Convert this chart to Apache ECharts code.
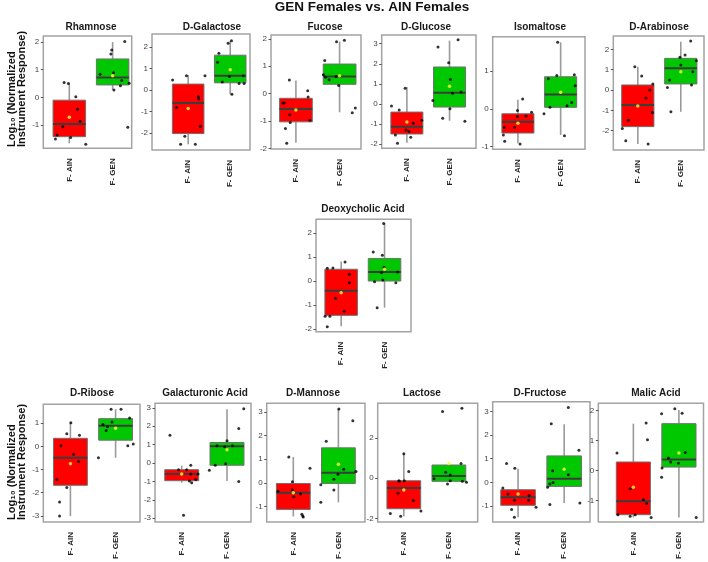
<!DOCTYPE html>
<html><head><meta charset="utf-8">
<script src="https://cdn.jsdelivr.net/npm/echarts@6/dist/echarts.min.js"></script>
<style>html,body{margin:0;padding:0;background:#fff}#c{width:708px;height:562px}</style>
</head><body><div id="c"></div>
<script>
// ---------- DATA ----------
const mainTitle = 'GEN Females vs. AIN Females';
const yAxisTitle = 'Log\u2081\u2080 (Normalized\nInstrument Response)';
const panelNames = ['Rhamnose','D-Galactose','Fucose','D-Glucose','Isomaltose','D-Arabinose',
  'Deoxycholic Acid','D-Ribose','Galacturonic Acid','D-Mannose','Lactose','D-Fructose','Malic Acid'];
const groups = ['F- AIN','F- GEN'];
const groupPos = [1, 2];
// box stats: [whisker low, Q1, median, Q3, whisker high]
const boxAIN = [
  [-1.66,-1.42,-0.96,-0.10,0.50],
  [-2.53,-2.03,-0.60,0.28,0.70],
  [-1.79,-1.03,-0.56,-0.17,0.48],
  [-1.92,-1.49,-1.13,-0.40,0.84],
  [-0.91,-0.64,-0.34,-0.13,0.24],
  [-2.66,-1.80,-0.74,0.25,1.15],
  [-1.88,-1.43,-0.40,0.49,0.81],
  [-3.01,-1.68,-0.49,0.35,1.02],
  [-1.07,-0.96,-0.60,-0.36,-0.14],
  [-1.43,-1.13,-0.42,-0.03,1.09],
  [-1.89,-1.52,-0.49,-0.13,1.21],
  [-1.47,-0.97,-0.63,-0.31,0.58],
  [-1.57,-1.48,-1.03,0.28,1.56]
];
const boxGEN = [
  [0.27,0.45,0.72,1.39,2.00],
  [-0.19,0.34,0.67,1.63,2.30],
  [-0.68,0.34,0.63,1.08,1.90],
  [-0.83,-0.15,0.56,1.84,3.15],
  [-0.69,0.04,0.38,0.85,1.76],
  [-1.07,0.30,1.07,1.56,2.38],
  [-1.11,0.00,0.38,0.94,2.40],
  [-0.49,0.27,0.89,1.20,1.61],
  [-0.98,-0.12,0.92,1.12,2.93],
  [-0.83,-0.03,0.42,1.48,3.13],
  [-0.16,-0.16,0.10,0.65,0.72],
  [-0.87,-0.17,0.15,1.12,2.46],
  [-1.57,0.11,0.36,1.56,2.02]
];
const meanAIN = [-0.72,-0.86,-0.60,-0.89,-0.38,-0.79,-0.49,-0.75,-0.60,-0.42,-0.59,-0.49,-0.56];
const meanGEN = [0.78,0.95,0.65,0.88,0.44,0.90,0.49,0.78,0.73,0.78,0.72,0.56,0.58];
// individual samples: [jittered group position, value]
const pointsAIN = [
  [[0.88,0.54],[0.98,0.5],[1.15,0.02],[1.19,-0.43],[1.25,-0.86],[0.85,-1.06],[1.03,-1.45],[0.72,-1.36],[0.68,-1.5],[1.38,-1.69]],
  [[0.63,0.47],[0.96,0.67],[1.4,0.67],[1.24,-0.31],[1.25,-0.42],[0.72,-0.81],[1.29,-1.69],[0.92,-2.16],[0.82,-2.53],[1.17,-2.53]],
  [[0.85,0.5],[0.73,-0.34],[0.7,-0.34],[1.27,0.11],[1.28,-0.12],[0.86,-0.77],[0.87,-1.05],[0.76,-1.27],[1.32,-0.97],[0.79,-1.81]],
  [[0.64,-0.1],[0.82,-0.3],[0.96,0.79],[1.15,-0.96],[1.35,-0.8],[0.98,-1.29],[1.05,-1.36],[0.73,-1.54],[1.09,-1.65],[0.78,-1.95]],
  [[1.11,0.26],[0.99,-0.04],[0.99,-0.2],[1.19,-0.19],[1.32,-0.09],[0.92,-0.49],[0.68,-0.49],[0.66,-0.69],[0.69,-0.86],[1.05,-0.93]],
  [[0.93,1.15],[1.09,0.69],[1.35,0.3],[1.28,0.0],[1.19,-0.39],[1.34,-1.1],[0.78,-1.48],[0.64,-1.89],[0.72,-2.49],[1.24,-2.66]],
  [[0.68,0.53],[0.81,0.54],[1.09,0.79],[1.19,0.28],[1.19,-0.07],[0.87,-0.72],[1.07,-1.26],[0.63,-1.47],[0.74,-1.47],[0.68,-1.9]],
  [[1.01,1.02],[0.92,0.55],[1.2,0.48],[0.79,0.03],[1.07,-0.34],[1.18,-0.65],[0.7,-1.43],[0.92,-1.77],[0.76,-2.4],[0.76,-3.01]],
  [[0.74,1.51],[0.93,-0.36],[1.11,-0.36],[1.2,-0.12],[1.2,-0.6],[1.36,-0.6],[1.31,-0.89],[1.17,-0.98],[1.22,-1.07],[1.04,-2.84]],
  [[0.9,1.09],[0.98,0.04],[0.98,-0.31],[0.66,-0.36],[1.01,-0.59],[1.16,-0.48],[1.37,0.62],[1.19,-1.34],[1.21,-1.41],[1.22,-1.45]],
  [[1.0,1.21],[1.11,0.33],[0.89,-0.13],[1.01,-0.13],[0.87,-0.75],[1.21,-1.11],[1.38,-1.63],[0.7,-1.76],[0.93,-1.89],[0.9,-0.16]],
  [[0.75,0.8],[0.93,0.6],[0.67,-0.24],[0.78,-0.49],[0.92,-0.76],[1.24,-0.55],[1.23,-0.76],[1.39,-1.05],[0.86,-1.15],[0.92,-1.47]],
  [[0.64,0.58],[1.28,1.58],[1.31,1.02],[0.93,-0.61],[1.22,-0.98],[1.29,-1.11],[0.66,-1.48],[0.93,-1.53],[1.04,-1.48],[1.39,-1.57]]
];
const pointsGEN = [
  [[1.98,1.71],[1.96,1.57],[2.28,2.02],[1.71,0.84],[2.02,0.89],[2.21,0.61],[2.38,0.51],[2.18,0.42],[2.03,0.27],[2.35,-1.08]],
  [[1.73,1.72],[1.7,1.3],[1.95,2.19],[2.03,2.3],[1.81,0.38],[1.98,0.63],[2.04,-0.19],[2.21,0.31],[2.33,0.31],[2.31,0.67]],
  [[1.93,1.89],[2.11,1.95],[1.66,1.21],[1.63,0.69],[1.68,0.6],[1.76,0.51],[1.92,0.63],[1.98,0.3],[2.36,-0.52],[2.29,-0.7]],
  [[1.73,2.83],[2.2,3.2],[1.98,2.05],[2.02,1.22],[1.61,0.18],[2.07,0.53],[2.27,0.6],[2.01,-0.23],[1.84,-0.71],[2.36,-0.86]],
  [[1.93,1.76],[1.71,0.8],[1.91,0.88],[2.32,0.9],[2.34,0.61],[2.26,0.17],[2.15,0.08],[1.75,0.04],[1.61,-0.13],[2.09,-0.71]],
  [[2.23,2.41],[2.1,1.72],[1.98,1.61],[2.36,1.44],[2.0,1.23],[2.28,0.9],[1.74,0.49],[2.25,0.25],[1.69,0.13],[1.77,-1.07]],
  [[1.98,2.4],[1.74,1.21],[1.95,1.07],[1.99,0.57],[1.93,0.35],[1.77,-0.03],[1.96,0.04],[2.3,0.38],[2.26,-0.07],[1.83,-1.11]],
  [[1.9,1.61],[2.12,1.61],[2.31,1.23],[1.92,1.05],[1.72,0.95],[1.82,0.85],[1.79,0.69],[2.27,0.03],[2.39,0.1],[1.62,-0.49]],
  [[2.37,2.95],[2.26,1.88],[2.0,1.21],[1.78,0.94],[1.95,0.89],[2.12,0.94],[1.97,-0.04],[1.74,-0.12],[1.61,-0.39],[2.26,-1.01]],
  [[2.01,3.13],[2.32,2.63],[1.73,1.76],[2.12,0.57],[1.99,0.36],[2.39,0.48],[1.9,0.15],[1.61,-0.08],[1.9,-0.31],[1.61,-0.83]],
  [[1.86,3.3],[2.29,3.46],[2.27,0.73],[1.93,0.29],[2.03,0.16],[2.03,-0.13],[1.97,-0.29],[1.67,-0.03],[2.3,-0.16],[2.39,-0.21]],
  [[2.09,3.16],[1.72,2.48],[2.32,1.36],[1.75,0.49],[2.09,0.32],[1.76,0.0],[1.69,-0.07],[1.64,-0.21],[1.69,-0.94],[2.34,-0.87]],
  [[1.62,1.89],[1.91,2.06],[2.07,1.91],[2.14,0.6],[1.77,0.41],[1.82,0.28],[1.99,0.24],[1.63,0.08],[1.62,-0.23],[2.38,-1.57]]
];
// axis ranges and tick labels
const yRanges = [[-1.84,2.22],[-2.8,2.62],[-2.02,2.14],[-2.2,3.43],[-1.07,1.91],[-2.95,2.66],
  [-2.11,2.57],[-3.26,1.82],[-3.2,3.25],[-1.66,3.37],[-2.17,3.71],[-1.67,3.41],[-1.72,2.24]];
const yTickValues = [[-1,0,1,2],[-2,-1,0,1,2],[-2,-1,0,1,2],[-2,-1,0,1,2,3],[-1,0,1],[-2,-1,0,1,2],
  [-2,-1,0,1,2],[-3,-2,-1,0,1],[-3,-2,-1,0,1,2,3],[-1,0,1,2,3],[-2,0,2],[-1,0,1,2,3],[-1,0,1,2]];
const xRanges = [[0.4,2.44],[0.14,2.47],[0.43,2.49],[0.41,2.62],[0.41,2.57],[0.43,2.54],
  [0.42,2.61],[0.4,2.54],[0.41,2.53],[0.41,2.59],[0.42,2.64],[0.45,2.56],[0.23,2.54]];

// ---------- LAYOUT (pixels) ----------
const panelRects = [ // left, top, right, bottom
  [43.3,36,131.7,148.3],[152,34,250,150],[271,35,361,149],[381.7,35,476,148.3],[492.7,36.7,585,149.3],[613.3,36,704,150],
  [316,219.3,411,331.7],
  [43.3,404.3,140,524.3],[155,403.3,251,524.3],[266.7,403.3,365,523.3],[377.7,403.3,477.7,523.3],[492.7,401.7,590,522.3],[598.3,403.3,703.5,522.3]
];
const titleCenters = [91,212,325,426,540,659,363,92,205,313,422,540,656];
const titleRowY = [27,27,27,27,27,27,209,393,393,393,393,393,393];

const FONT = '"Liberation Sans", Arial, sans-serif';
const boxColors = ['#ff0000', '#00c800'];

const grids = [], xAxes = [], yAxes = [], series = [], graphics = [];
panelNames.forEach((name, i) => {
  const [l, t, r, b] = panelRects[i];
  grids.push({left: l, top: t, width: r - l, height: b - t, show: true,
    borderColor: '#a3a3a3', borderWidth: 1.5, backgroundColor: '#fff', containLabel: false});
  xAxes.push({type: 'value', gridIndex: i, min: xRanges[i][0], max: xRanges[i][1],
    axisLine: {show: false}, splitLine: {show: false},
    axisTick: {show: false},
    axisLabel: {customValues: groupPos, formatter: v => groups[groupPos.indexOf(v)] || '',
      rotate: 90, margin: 10, fontSize: 8, fontWeight: 'bold', color: '#222', fontFamily: FONT}});
  yAxes.push({type: 'value', gridIndex: i, min: yRanges[i][0], max: yRanges[i][1],
    axisLine: {show: false}, splitLine: {show: false},
    axisTick: {show: true, customValues: yTickValues[i], length: 2.5, lineStyle: {color: '#555', width: 1}},
    axisLabel: {customValues: yTickValues[i], margin: 4, fontSize: 8, color: '#444', fontFamily: FONT,
      showMinLabel: true, showMaxLabel: true}});
  series.push({
    type: 'custom', xAxisIndex: i, yAxisIndex: i, z: 2,
    data: [[groupPos[0]].concat(boxAIN[i]), [groupPos[1]].concat(boxGEN[i])],
    renderItem: (params, api) => {
      const c = api.value(0), lo = api.value(1), q1 = api.value(2), md = api.value(3), q3 = api.value(4), hi = api.value(5);
      const half = 0.375;
      const pLo = api.coord([c, lo]), pQ1 = api.coord([c, q1]), pQ3 = api.coord([c, q3]), pHi = api.coord([c, hi]);
      const mL = api.coord([c - half, md]), mR = api.coord([c + half, md]);
      const xL = mL[0], xR = mR[0];
      return {type: 'group', children: [
        {type: 'line', shape: {x1: pLo[0], y1: pLo[1], x2: pQ1[0], y2: pQ1[1]}, style: {stroke: '#9a9a9a', lineWidth: 1.6}},
        {type: 'line', shape: {x1: pQ3[0], y1: pQ3[1], x2: pHi[0], y2: pHi[1]}, style: {stroke: '#9a9a9a', lineWidth: 1.6}},
        {type: 'rect', shape: {x: xL, y: pQ3[1], width: xR - xL, height: pQ1[1] - pQ3[1]},
          style: {fill: boxColors[params.dataIndex], stroke: '#707070', lineWidth: 1}},
        {type: 'line', shape: {x1: xL, y1: mL[1], x2: xR, y2: mR[1]}, style: {stroke: '#3c3c3c', lineWidth: 2}}
      ]};
    }
  });
  series.push({type: 'scatter', xAxisIndex: i, yAxisIndex: i, z: 3, symbol: 'circle', symbolSize: 3,
    itemStyle: {color: '#000'}, data: pointsAIN[i].concat(pointsGEN[i])});
  series.push({type: 'scatter', xAxisIndex: i, yAxisIndex: i, z: 4, symbol: 'circle', symbolSize: 3.5,
    itemStyle: {color: '#ffff33'}, data: [[groupPos[0], meanAIN[i]], [groupPos[1], meanGEN[i]]]});
  graphics.push({type: 'text', x: titleCenters[i], y: titleRowY[i],
    style: {text: name, fontSize: 10, fontWeight: 'bold', fill: '#1a1a1a', fontFamily: FONT, align: 'center', verticalAlign: 'middle'}});
});
graphics.push({type: 'text', x: 372, y: 7,
  style: {text: mainTitle, fontSize: 13.5, fontWeight: 'bold', fill: '#111', fontFamily: FONT, align: 'center', verticalAlign: 'middle'}});
[147, 520].forEach(y0 => {
  graphics.push({type: 'text', x: 17, y: y0, rotation: Math.PI / 2,
    style: {text: yAxisTitle, fontSize: 11, lineHeight: 10, fontWeight: 'bold', fill: '#111', fontFamily: FONT,
      align: 'left', verticalAlign: 'middle'}});
});

const chart = echarts.init(document.getElementById('c'), null, {renderer: 'canvas'});
chart.setOption({animation: false, backgroundColor: '#fff', grid: grids, xAxis: xAxes, yAxis: yAxes,
  series: series, graphic: graphics});
</script></body></html>
